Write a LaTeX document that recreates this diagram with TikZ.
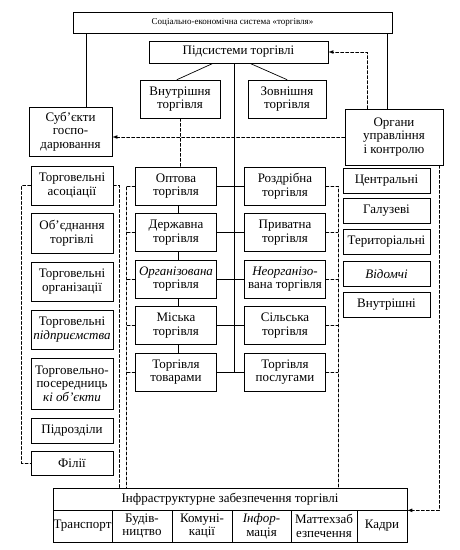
\documentclass[tikz,border=0pt]{standalone}
\usepackage{fontspec}
\setmainfont{Liberation Serif}
\tikzset{
  box/.style={draw, line width=0.7pt, align=center, inner sep=1pt,
    font=\fontsize{13}{13.5}\selectfont},
  link/.style={line width=0.7pt},
  dlink/.style={line width=0.7pt, dash pattern=on 3pt off 2pt},
}
\begin{document}
\begin{tikzpicture}[x=1pt,y=-1pt,line cap=round,>=latex]
  \useasboundingbox (0,0) rectangle (460,550);
  % top levels
  \node[box, font=\fontsize{9}{11}\selectfont, minimum width=319pt, minimum height=21pt] (sys) at (232.5,22.5) {Соціально-економічна система «торгівля»};
  \node[box, minimum width=179pt, minimum height=22pt] (sub) at (238.5,52) {Підсистеми торгівлі};
  \node[box, minimum width=80pt, minimum height=38pt] (vn) at (180,99) {Внутрішня\\торгівля};
  \node[box, minimum width=78pt, minimum height=38pt] (zv) at (287,99) {Зовнішня\\торгівля};
  \node[box, minimum width=83pt, minimum height=49pt] (subj) at (70.5,131.5) {Суб’єкти\\госпо-\\дарювання};
  \node[box, minimum width=98pt, minimum height=56pt] (org) at (394,137) {Органи\\управління\\і контролю};
  % left column
  \foreach \nm/\yy/\hh/\txt in {
    l1/185.5/39/{Торговельні\\асоціації},
    l2/233/40/{Об’єднання\\торгівлі},
    l3/281.5/39/{Торговельні\\організації},
    l4/329.5/39/{Торговельні\\\textit{підприємства}},
    l5/383.5/51/{Торговельно-\\посередниць\\\textit{кі об’єкти}},
    l6/430.5/25/Підрозділи,
    l7/463/24/Філії}
    \node[box, minimum width=82pt, minimum height=\hh pt] (\nm) at (72,\yy) {\txt};
  % middle columns
  \foreach \i/\yy/\la/\lb in {
    1/186/{Оптова\\торгівля}/{Роздрібна\\торгівля},
    2/232.5/{Державна\\торгівля}/{Приватна\\торгівля},
    3/279/{\textit{Організована}\\торгівля}/{\textit{Неорганізо-}\\вана торгівля},
    4/325.5/{Міська\\торгівля}/{Сільська\\торгівля},
    5/372/{Торгівля\\товарами}/{Торгівля\\послугами}} {
    \node[box, minimum width=81pt, minimum height=38pt] (m\i) at (176,\yy) {\la};
    \node[box, minimum width=81pt, minimum height=38pt] (r\i) at (285,\yy) {\lb};
    \draw[link] (m\i.east) -- (r\i.west);
  }
  % right column
  \foreach \i/\yy/\txt in {1/180.5/Центральні, 2/211/Галузеві, 3/242/Територіальні,
    4/274/\textit{Відомчі}, 5/305/Внутрішні}
    \node[box, minimum width=87pt, minimum height=25pt] (k\i) at (386.5,\yy) {\txt};
  % infrastructure
  \node[box, minimum width=354pt, minimum height=22pt] (infra) at (230,499) {Інфраструктурне забезпечення торгівлі};
  \foreach \i/\xx/\ww/\txt in {1/82.5/59/Транспорт, 2/142/60/{Будів-\\ництво},
    3/202/60/{Комуні-\\кації}, 4/261.5/59/{\textit{Інфор-}\\мація},
    5/324/66/{Маттехзаб\\езпечення}, 6/382/50/Кадри}
    \node[box, inner sep=0pt, minimum width=\ww pt, minimum height=32pt] (c\i) at (\xx,526) {\txt};
  % solid links
  \coordinate (sl) at ([xshift=15.5pt]subj.north);
  \coordinate (sr) at ([xshift=-7pt]org.north);
  \draw[link] (sl) -- (sl |- sys.south);
  \draw[link] (sr) -- (sr |- sys.south);
  \draw[link] ([xshift=-25.5pt]sub.south) -- ([xshift=-3pt]vn.north);
  \draw[link] ([xshift=11.5pt]sub.south) -- (zv.north);
  \coordinate (tr) at (234,372);
  \draw[link] (sub.south -| tr) -- (tr);
  \foreach \i/\j in {1/2,2/3,3/4,4/5}
    \draw[link] ([xshift=2pt]m\i.south) -- ([xshift=2pt]m\j.north);
  % dashed links
  \draw[dlink] (vn.south) -- (vn.south |- m1.north);
  \draw[dlink,->] (org.west) -- (org.west -| subj.east);
  \coordinate (so) at ([xshift=-27pt]org.north);
  \draw[dlink,->] (so) |- (sub.east);
  \draw[dlink] (l1.west) -- ++(-9,0) |- (l7.west);
  \draw[dlink] (l1.east) -- ++(6,0) coordinate (la) -- (la |- infra.north);
  \draw[dlink] (m1.west) -- ++(-9,0) coordinate (lb) -- (lb |- infra.north);
  \foreach \i in {2,...,5}
    \draw[dlink] (m\i.west) -- (m\i.west -| lb);
  \draw[dlink] (r1.east) -- ++(12,0) coordinate (rb) -- (rb |- infra.north);
  \foreach \i in {2,...,5}
    \draw[dlink] (r\i.east) -- (r\i.east -| rb);
  \coordinate (ok) at ([xshift=-4pt]org.south east);
  \draw[dlink,->] (ok) |- (infra.south east);
\end{tikzpicture}
\end{document}
